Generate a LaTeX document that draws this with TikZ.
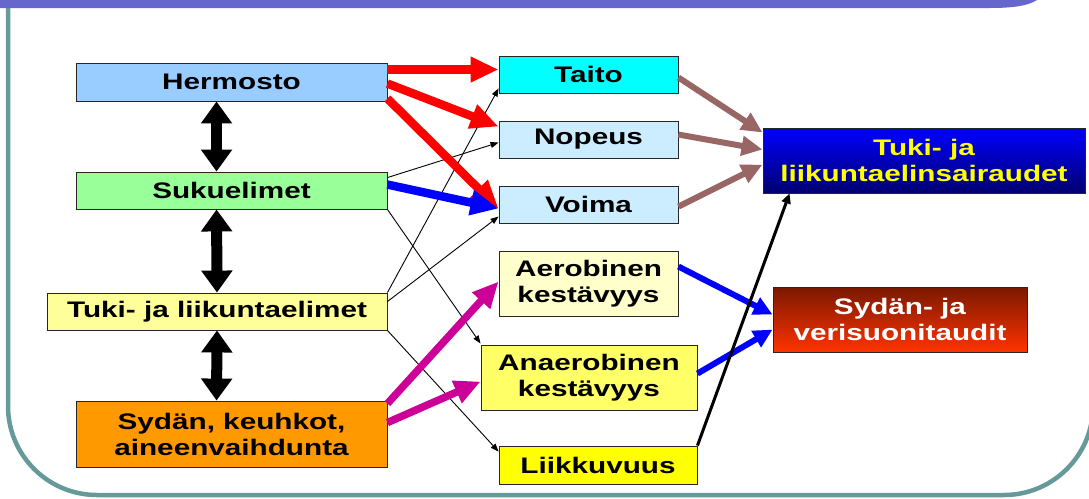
\documentclass[tikz,border=0pt]{standalone}
\usepackage{fontspec}
\setmainfont{Liberation Sans}[FakeStretch=1.32]
\usetikzlibrary{arrows.meta,calc}
\definecolor{cHerm}{HTML}{99CCFF}
\definecolor{cSuku}{HTML}{99FF99}
\definecolor{cTuki}{HTML}{FFFF99}
\definecolor{cSyd}{HTML}{FF9900}
\definecolor{cTaito}{HTML}{00FFFF}
\definecolor{cLblue}{HTML}{CCECFF}
\definecolor{cAero}{HTML}{FFFFCC}
\definecolor{cAnaero}{HTML}{FFFF66}
\definecolor{cLiik}{HTML}{FFFF00}
\definecolor{cRed}{HTML}{FF0000}
\definecolor{cBlue}{HTML}{0000FF}
\definecolor{cMag}{HTML}{CC0099}
\definecolor{cBrown}{HTML}{996666}
\definecolor{cFrame}{HTML}{669999}
\definecolor{cBar}{HTML}{6666CC}
\definecolor{cNavy}{HTML}{000070}
\definecolor{cDarkRed}{HTML}{7A1800}
\definecolor{cOrRed}{HTML}{FF3300}
\definecolor{cYel}{HTML}{FFFF00}
\tikzset{
  box/.style={draw=black!85, line width=0.9, inner sep=0, align=center,
    font=\fontsize{22.5}{26}\selectfont\bfseries},
  thinarr/.style={line width=0.9, -{Triangle[width=6pt,length=8pt]}},
  redarr/.style={cRed, line width=8.5, -{Triangle[width=24pt,length=28pt]}},
  bluearr/.style={cBlue, line width=8.5, -{Triangle[width=24pt,length=28pt]}},
  magarr/.style={cMag, line width=7.5, -{Triangle[width=23pt,length=26pt]}},
  brownarr/.style={cBrown, line width=6, -{Triangle[width=19pt,length=21pt]}},
  bluesarr/.style={cBlue, line width=6, -{Triangle[width=18pt,length=19pt]}},
  blackarr/.style={black, line width=3, -{Triangle[width=9pt,length=10pt]}},
  dblarr/.style={black, line width=11, {Triangle[width=30pt,length=22pt]}-{Triangle[width=30pt,length=22pt]}},
}
\begin{document}
\begin{tikzpicture}[x=1pt,y=-1pt]
\useasboundingbox (0,0) rectangle (1089,498);
% frame
\draw[cFrame, line width=4.5, rounded corners=89] (8,-200) rectangle (1093,495);
\fill[cBar] (0,0) -- (1037,0) .. controls (1028,6) and (1012,8) .. (990,8) -- (0,8) -- cycle;

% left column
\node[box, fill=cHerm, minimum width=311, minimum height=38] (herm) at (231.5,82) {Hermosto};
\node[box, fill=cSuku, minimum width=311, minimum height=37] (suku) at (231.5,190.5) {Sukuelimet};
\node[box, fill=cTuki, minimum width=340, minimum height=37] (tuki) at (217,311.5) {Tuki- ja liikuntaelimet};
\node[box, fill=cSyd, minimum width=311, minimum height=66] (syd) at (231.5,434) {Sydän, keuhkot,\\aineenvaihdunta};

% middle column
\node[box, fill=cTaito, minimum width=179, minimum height=37] (taito) at (588.5,74.5) {Taito};
\node[box, fill=cLblue, minimum width=179, minimum height=37] (nopeus) at (588.5,139.5) {Nopeus};
\node[box, fill=cLblue, minimum width=179, minimum height=37] (voima) at (588.5,204.5) {Voima};
\node[box, fill=cAero, minimum width=179, minimum height=65] (aero) at (588.5,283.5) {Aerobinen\\kestävyys};
\node[box, fill=cAnaero, minimum width=216, minimum height=65] (anaero) at (589,377.5) {Anaerobinen\\kestävyys};
\node[box, fill=cLiik, minimum width=198, minimum height=38] (liik) at (598,465) {Liikkuvuus};

% right column
\node[box, top color=cBlue, bottom color=cNavy, text=cYel, minimum width=322, minimum height=65] (tukis) at (924,160.5) {Tuki- ja\\liikuntaelinsairaudet};
\node[box, top color=cDarkRed, bottom color=cOrRed, text=white, minimum width=254, minimum height=65] (sydv) at (900,319.5) {Sydän- ja\\verisuonitaudit};

% double arrows
\draw[dblarr] ($(herm.south west)+(141,0)$) -- ($(suku.north west)+(141,0)$);
\draw[dblarr] ($(suku.south west)+(141,0)$) -- (tuki.north);
\draw[dblarr] (tuki.south) -- ($(syd.north west)+(141,0)$);

% thin arrows
\draw[thinarr] ($(suku.north east)+(0,6)$) -- ($(nopeus.north west)+(0,22)$);
\draw[thinarr] (suku.south east) -- ($(anaero.north west)+(0,-1)$);
\draw[thinarr] (tuki.north east) -- ($(taito.south west)+(0,-5)$);
\draw[thinarr] ($(tuki.north east)+(0,9)$) -- ($(voima.north west)+(0,31)$);
\draw[thinarr] (tuki.south east) -- ($(liik.north west)+(0,6)$);

% red arrows
\draw[redarr] ($(herm.north east)+(0,7)$) -- ($(taito.north west)+(0,14)$);
\draw[redarr] ($(herm.north east)+(0,21)$) -- ($(nopeus.north west)+(0,6)$);
\draw[redarr] ($(herm.north east)+(0,36)$) -- ($(voima.north west)+(0,23)$);
% blue
\draw[bluearr] ($(suku.north east)+(0,13)$) -- ($(voima.north west)+(0,23)$);
% magenta
\draw[magarr] ($(syd.north east)+(0,3)$) -- ($(aero.north west)+(0,31)$);
\draw[magarr] ($(syd.north east)+(0,22)$) -- ($(anaero.north west)+(0,37)$);
% brown
\draw[brownarr] ($(taito.north east)+(0,22)$) -- ($(tukis.north west)+(0,5)$);
\draw[brownarr] ($(nopeus.north east)+(0,14)$) -- ($(tukis.north west)+(0,22)$);
\draw[brownarr] ($(voima.north east)+(0,21)$) -- ($(tukis.north west)+(0,37)$);
% blue to sydv
\draw[bluesarr] ($(aero.north east)+(0,16)$) -- ($(sydv.north west)+(0,28)$);
\draw[bluesarr] ($(anaero.north east)+(0,29)$) -- ($(sydv.north west)+(0,43)$);
% black
\draw[blackarr] (liik.north east) -- ($(tukis.south west)+(27,0)$);
\end{tikzpicture}
\end{document}
